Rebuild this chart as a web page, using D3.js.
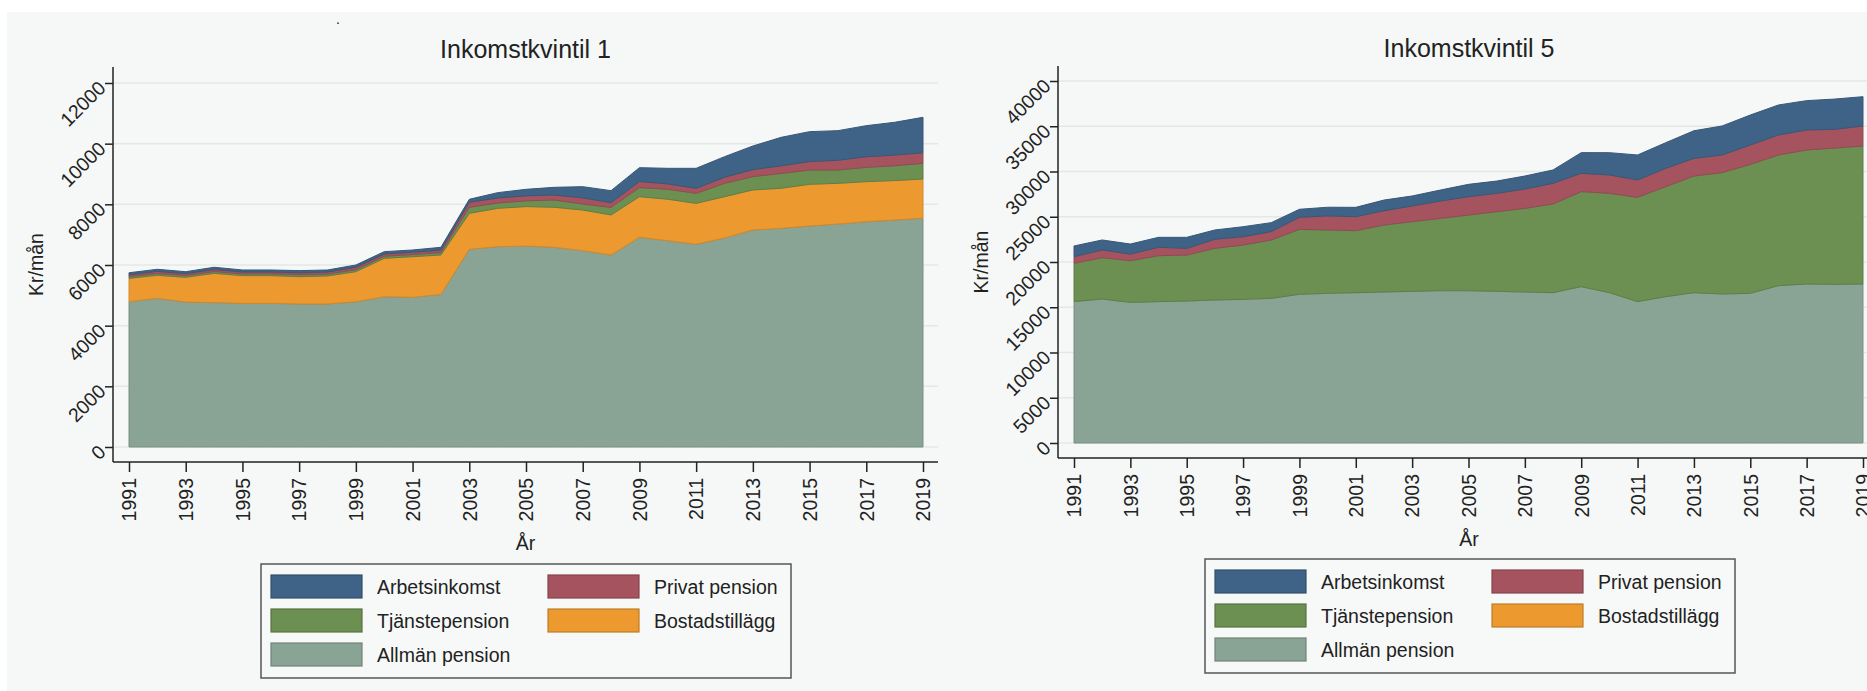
<!DOCTYPE html>
<html>
<head>
<meta charset="utf-8">
<script src="https://cdn.jsdelivr.net/npm/d3@7"></script>
<style>
  body { margin: 0; background: #fff; }
  text { font-family: "Liberation Sans", Arial, sans-serif; fill: #222; }
</style>
</head>
<body>
<svg id="chart" width="1867" height="691"></svg>
<script>
// data (kr/mån per component)
const years = [1991,1992,1993,1994,1995,1996,1997,1998,1999,2000,2001,2002,2003,2004,2005,
               2006,2007,2008,2009,2010,2011,2012,2013,2014,2015,2016,2017,2018,2019];
const xTickYears = [1991,1993,1995,1997,1999,2001,2003,2005,2007,2009,2011,2013,2015,2017,2019];

// Inkomstkvintil 1
const q1Allman = [4790,4900,4780,4760,4735,4735,4715,4715,4790,4955,4935,5030,6518,6604,6626,
                  6583,6473,6330,6913,6803,6683,6892,7155,7210,7286,7352,7429,7484,7541];
const q1Bostad = [770,760,815,965,915,915,900,925,990,1265,1340,1300,1185,1265,1300,
                  1320,1340,1320,1340,1365,1350,1360,1320,1320,1375,1340,1320,1300,1295];
const q1Tjanst = [60,60,60,60,60,60,65,65,65,70,70,80,200,175,190,
                  240,200,250,300,330,330,440,440,490,470,440,470,490,515];
const q1Privat = [60,70,60,65,60,60,65,65,80,75,75,80,165,165,165,
                  165,200,155,200,175,165,200,230,250,280,320,350,350,350];
const q1Arbete = [65,68,65,75,66,66,70,66,75,75,75,93,98,176,214,
                  253,370,396,456,514,659,679,778,939,985,977,1025,1080,1168];

// Inkomstkvintil 5
const q5Allman = [15620,15910,15540,15620,15690,15800,15875,15985,16430,16540,16610,16685,16760,16830,16830,
                  16760,16685,16610,17275,16610,15620,16170,16610,16465,16540,17385,17570,17530,17570];
const q5Bostad = [0,0,0,0,0,0,0,0,0,0,0,0,0,0,0,0,0,0,0,0,0,0,0,0,0,0,0,0,0];
const q5Tjanst = [4240,4570,4600,5080,5080,5710,6000,6450,7180,7000,6850,7400,7700,7990,8360,
                  8800,9245,9800,10500,10980,11530,12155,12890,13410,14250,14440,14810,15065,15250];
const q5Privat = [730,850,740,920,740,1000,920,920,1330,1550,1550,1580,1730,1915,2025,
                  2025,2135,2285,2025,2025,1915,2025,1950,1950,2135,2210,2210,2060,2210];
const q5Arbete = [1180,1105,1105,1105,1215,1030,1105,995,885,960,1030,1180,1105,1215,1365,
                  1360,1435,1475,2285,2465,2760,2835,3055,3205,3315,3315,3240,3350,3240];

const keys = ['allman','bostad','tjanst','privat','arbete'];
const labels = {allman:'Allmän pension', bostad:'Bostadstillägg', tjanst:'Tjänstepension',
                privat:'Privat pension', arbete:'Arbetsinkomst'};
const colors = {allman:'#89a395', bostad:'#ec9a30', tjanst:'#6c8f52', privat:'#a5545f', arbete:'#3f6386'};
const legendOrder = ['arbete','privat','tjanst','bostad','allman'];

const svg = d3.select('#chart');

// light graph background
svg.append('rect').attr('x', 7).attr('y', 12).attr('width', 1867).attr('height', 691)
  .attr('fill', '#f5f8f7');
svg.append('text').attr('x', 336).attr('y', 24).attr('font-size', 14).text('.');

function rows(a, b, t, p, w) {
  return years.map((yr, i) => ({year: yr, allman: a[i], bostad: b[i], tjanst: t[i], privat: p[i], arbete: w[i]}));
}

function drawPanel(cfg) {
  const g = svg.append('g');
  const x = d3.scaleLinear().domain([1991, 2019]).range([cfg.x0, cfg.x1]);
  const y = d3.scaleLinear().domain([0, cfg.yMax]).range([cfg.yZero, cfg.yMaxPx]);

  // grid
  g.selectAll('.grid').data(cfg.yTicks).enter().append('line')
    .attr('x1', cfg.axisX).attr('x2', cfg.plotRight)
    .attr('y1', d => y(d)).attr('y2', d => y(d))
    .attr('stroke', '#e3e8e6').attr('stroke-width', 1.5);

  // stacked areas
  const stacked = d3.stack().keys(keys)(cfg.data);
  const area = d3.area()
    .x(d => x(d.data.year))
    .y0(d => y(d[0]))
    .y1(d => y(d[1]));
  g.selectAll('.layer').data(stacked).enter().append('path')
    .attr('d', area)
    .attr('fill', d => colors[d.key])
    .attr('stroke', d => d3.sum(d, v => v[1] - v[0]) > 0 ? d3.color(colors[d.key]).darker(0.35) : 'none')
    .attr('stroke-width', 1);

  // y axis
  const yAxis = g.append('g').attr('transform', 'translate(' + cfg.axisX + ',0)')
    .call(d3.axisLeft(y).tickValues(cfg.yTicks).tickFormat(d3.format('d')).tickSize(8).tickSizeOuter(0));
  yAxis.select('.domain').remove();
  yAxis.selectAll('line').attr('stroke', '#222').attr('stroke-width', 1.5);
  yAxis.selectAll('text')
    .attr('x', 0).attr('dy', '0.35em')
    .attr('transform', 'translate(-11,1) rotate(-45)')
    .attr('text-anchor', 'end')
    .attr('font-size', 19.5).attr('fill', '#222');
  g.append('line').attr('x1', cfg.axisX).attr('x2', cfg.axisX)
    .attr('y1', cfg.axisTop).attr('y2', cfg.axisBottom)
    .attr('stroke', '#222').attr('stroke-width', 1.5);

  // x axis
  const xAxis = g.append('g').attr('transform', 'translate(0,' + cfg.axisBottom + ')')
    .call(d3.axisBottom(x).tickValues(xTickYears).tickFormat(d3.format('d')).tickSize(10).tickSizeOuter(0));
  xAxis.select('.domain').remove();
  xAxis.selectAll('line').attr('stroke', '#222').attr('stroke-width', 1.5);
  xAxis.selectAll('text')
    .attr('x', -16).attr('y', 0).attr('dy', '0.35em')
    .attr('transform', 'rotate(-90)')
    .attr('text-anchor', 'end')
    .attr('font-size', 19.5).attr('fill', '#222');
  g.append('line').attr('x1', cfg.axisX).attr('x2', cfg.plotRight)
    .attr('y1', cfg.axisBottom).attr('y2', cfg.axisBottom)
    .attr('stroke', '#222').attr('stroke-width', 1.5);

  const midX = (cfg.axisX + cfg.plotRight) / 2;
  // titles
  g.append('text').attr('x', midX).attr('y', cfg.titleY).attr('text-anchor', 'middle')
    .attr('font-size', 25).attr('fill', '#333').text(cfg.title);
  g.append('text').attr('x', midX).attr('y', cfg.axisBottom + 88).attr('text-anchor', 'middle')
    .attr('font-size', 19.5).text('År');
  g.append('text')
    .attr('transform', 'translate(' + cfg.yTitleX + ',' + ((cfg.axisTop + cfg.axisBottom) / 2) + ') rotate(-90)')
    .attr('text-anchor', 'middle').attr('dy', '0.35em')
    .attr('font-size', 19.5).text('Kr/mån');

  // legend
  const lg = g.append('g').attr('transform', 'translate(' + cfg.legendX + ',' + cfg.legendY + ')');
  lg.append('rect').attr('width', 530).attr('height', 114)
    .attr('fill', '#f7f9f8').attr('stroke', '#555').attr('stroke-width', 1.5);
  const items = lg.selectAll('.item').data(legendOrder).enter().append('g')
    .attr('transform', (d, i) => 'translate(' + (i % 2 === 0 ? 10 : 287) + ',' + (11 + Math.floor(i / 2) * 34) + ')');
  items.append('rect').attr('width', 91).attr('height', 23)
    .attr('fill', d => colors[d])
    .attr('stroke', d => d3.color(colors[d]).darker(0.6)).attr('stroke-width', 1.2);
  items.append('text').attr('x', 106).attr('y', 11.5).attr('dy', '0.36em')
    .attr('font-size', 19.5).text(d => labels[d]);
}

drawPanel({
  title: 'Inkomstkvintil 1',
  data: rows(q1Allman, q1Bostad, q1Tjanst, q1Privat, q1Arbete),
  yMax: 12000, yTicks: [0, 2000, 4000, 6000, 8000, 10000, 12000],
  axisX: 113, plotRight: 938, x0: 129, x1: 923,
  yZero: 447, yMaxPx: 83, axisTop: 67, axisBottom: 462,
  titleY: 58, yTitleX: 36, legendX: 261, legendY: 564
});

drawPanel({
  title: 'Inkomstkvintil 5',
  data: rows(q5Allman, q5Bostad, q5Tjanst, q5Privat, q5Arbete),
  yMax: 40000, yTicks: [0, 5000, 10000, 15000, 20000, 25000, 30000, 35000, 40000],
  axisX: 1058, plotRight: 1880, x0: 1074, x1: 1863,
  yZero: 443, yMaxPx: 81, axisTop: 66, axisBottom: 458,
  titleY: 57, yTitleX: 981, legendX: 1205, legendY: 559
});
</script>
</body>
</html>
